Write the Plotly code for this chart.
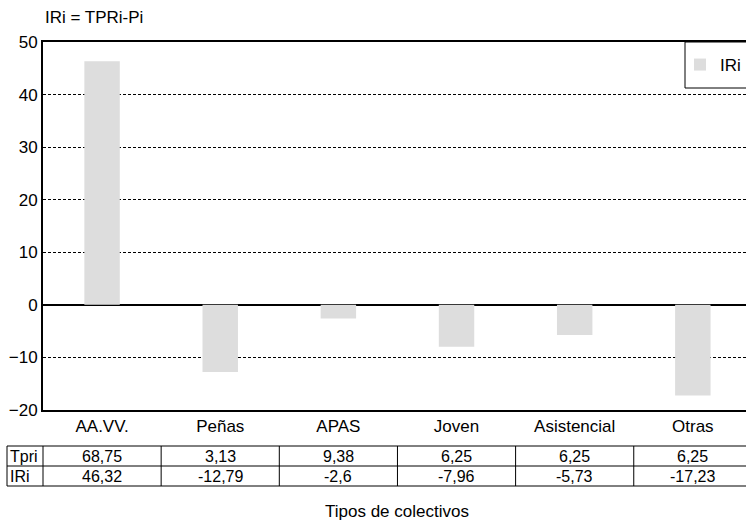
import plotly.graph_objects as go

# Categories and values
categories = ["AA.VV.", "Peñas", "APAS", "Joven", "Asistencial", "Otras"]
tpri = [68.75, 3.13, 9.38, 6.25, 6.25, 6.25]
iri = [46.32, -12.79, -2.6, -7.96, -5.73, -17.23]
row_labels = ["Tpri", "IRi"]

def fmt(v):
    return f"{v:g}".replace(".", ",")

FONT = "Liberation Sans, Arial, sans-serif"
W, H = 746, 522
ML, MR, MT, MB = 43, 0, 42, 112
plot_w = W - ML - MR
plot_h = H - MT - MB

x_range = [-0.5, 5.45]

def px_x(i):
    # paper x for a category-axis position
    return (i - x_range[0]) / (x_range[1] - x_range[0])

def py(ypx):
    # paper y for a pixel row measured from the top of the page
    return (H - MB - ypx) / plot_h

fig = go.Figure()
fig.add_trace(go.Bar(
    x=list(range(len(categories))), y=iri, name="IRi", width=0.3,
    marker=dict(color="#dddddd", line=dict(width=0)),
))

shapes = []
annotations = []

# Table below the axis
row_tops = [446, 466]
row_h = 20
left_px = 7
left_paper = (left_px - ML) / plot_w
y_top, y_mid, y_bot = py(row_tops[0]), py(row_tops[1]), py(row_tops[1] + row_h)
line = dict(color="black", width=1)
for yy in (y_top, y_mid, y_bot):
    shapes.append(dict(type="line", xref="paper", yref="paper", x0=left_paper, x1=1.02,
                       y0=yy, y1=yy, line=line))
col_edges = [left_paper] + [px_x(i - 0.5) for i in range(len(categories))]
for xe in col_edges:
    shapes.append(dict(type="line", xref="paper", yref="paper", x0=xe, x1=xe,
                       y0=y_top, y1=y_bot, line=line))

for r, (label, vals) in enumerate(zip(row_labels, [tpri, iri])):
    yc = py(row_tops[r] + row_h / 2)
    annotations.append(dict(xref="paper", yref="paper", x=left_paper + 0.002, y=yc,
                            xanchor="left", yanchor="middle", text=label, showarrow=False,
                            font=dict(size=16, color="black", family=FONT)))
    for i, v in enumerate(vals):
        annotations.append(dict(xref="paper", yref="paper", x=px_x(i), y=yc,
                                xanchor="center", yanchor="middle", text=fmt(v),
                                showarrow=False,
                                font=dict(size=16, color="black", family=FONT)))

# Titles
annotations.append(dict(xref="paper", yref="paper", x=0, y=py(18), xanchor="left",
                        yanchor="middle", text="IRi = TPRi-Pi", showarrow=False,
                        font=dict(size=17, color="black", family=FONT)))
annotations.append(dict(xref="paper", yref="paper", x=px_x(2.5), y=py(511), xanchor="center",
                        yanchor="middle", text="Tipos de colectivos", showarrow=False,
                        font=dict(size=17, color="black", family=FONT)))

# Legend frame
shapes.append(dict(type="rect", xref="paper", yref="paper",
                   x0=(685 - ML) / plot_w, x1=1.05, y0=py(88), y1=1.0,
                   line=line, fillcolor="white", layer="above"))

fig.update_layout(
    width=W, height=H,
    margin=dict(l=ML, r=MR, t=MT, b=MB, autoexpand=False),
    paper_bgcolor="white", plot_bgcolor="white",
    font=dict(family=FONT, size=17, color="black"),
    showlegend=True,
    legend=dict(x=1, y=py(65), xanchor="right", yanchor="middle",
                bgcolor="rgba(0,0,0,0)", borderwidth=0, font=dict(size=17),
                itemwidth=30),
    xaxis=dict(
        range=x_range, tickmode="array", tickvals=list(range(len(categories))),
        ticktext=categories, showgrid=False, zeroline=False,
        showline=True, linecolor="black", linewidth=2, mirror=True,
        ticks="", tickfont=dict(size=17),
    ),
    yaxis=dict(
        range=[-20, 50], dtick=10, tick0=0,
        showgrid=True, gridcolor="black", gridwidth=1, griddash="3px,2px",
        zeroline=True, zerolinecolor="black", zerolinewidth=2,
        showline=True, linecolor="black", linewidth=2,
        ticks="", tickfont=dict(size=17),
    ),
    shapes=shapes,
    annotations=annotations,
)

fig.write_html("out.html")
